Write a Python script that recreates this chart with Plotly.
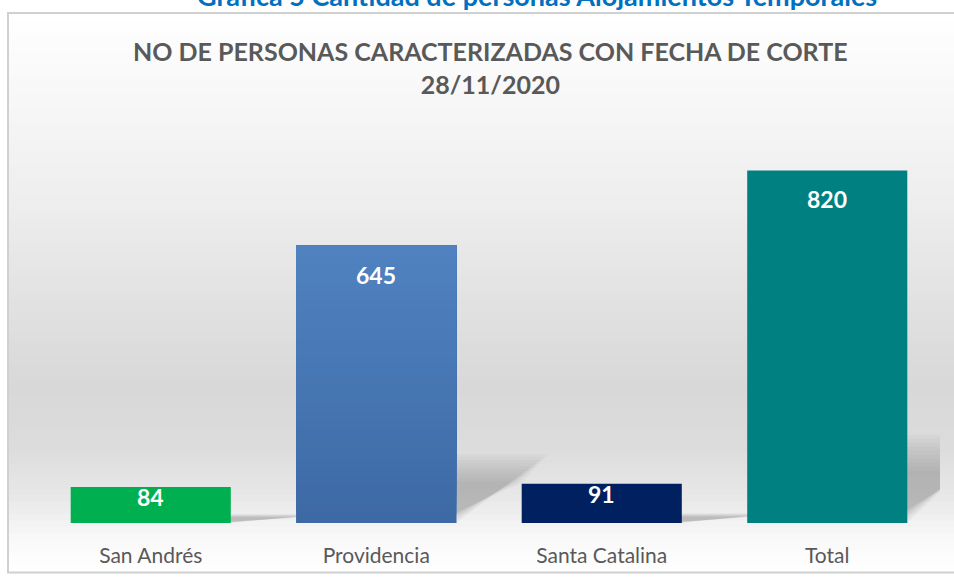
import plotly.graph_objects as go

categories = ["San Andrés", "Providencia", "Santa Catalina", "Total"]
values = [84, 645, 91, 820]
bar_colors = ["#00B050", "#4A7BBA", "#002060", "#008080"]
title_text = "NO DE PERSONAS CARACTERIZADAS CON FECHA DE CORTE<br>28/11/2020"
top_caption = "Gráfica 5 Cantidad de personas Alojamientos Temporales"

W, H = 954, 579
ML = 38
MT = 136
MR = W - 940
MB = H - 526
PW, PH = W - ML - MR, H - MT - MB
Y_MAX = 900
FONT = "Lato"


def px_x(px):  # page pixel -> paper
    return (px - ML) / PW


def px_y(py):
    return (H - MB - py) / PH


xs = list(range(len(categories)))
BAR_W = 0.71

fig = go.Figure()
fig.add_trace(go.Bar(
    x=xs, y=values, width=BAR_W,
    marker=dict(color=bar_colors, line=dict(width=0)),
    hoverinfo="skip",
))

shapes = []
# background gradient (paper coords); each strip runs to the bottom to avoid seams
stops = [(12, 255), (100, 247), (200, 238), (300, 226), (390, 216),
         (450, 220), (500, 232), (540, 248), (575, 255)]
N = 90
y0p, y1p = 12, 580
for k in range(N):
    a = y0p + (y1p - y0p) * k / N
    b = y0p + (y1p - y0p) * (k + 1) / N
    m = (a + b) / 2
    g = 255
    for j in range(len(stops) - 1):
        if stops[j][0] <= m <= stops[j + 1][0]:
            t = (m - stops[j][0]) / (stops[j + 1][0] - stops[j][0])
            g = round(stops[j][1] + t * (stops[j + 1][1] - stops[j][1]))
            break
    col = f"rgb({g},{g},{g})"
    shapes.append(dict(type="rect", xref="paper", yref="paper", layer="below",
                       x0=px_x(8), x1=px_x(980), y0=px_y(y1p), y1=px_y(a),
                       fillcolor=col, line=dict(width=0)))
# border
shapes.append(dict(type="rect", xref="paper", yref="paper", layer="below",
                   x0=px_x(8), x1=px_x(990), y0=px_y(576), y1=px_y(12),
                   fillcolor="rgba(0,0,0,0)", line=dict(color="#d0d0d0", width=2)))

# soft perspective shadows (many faint layers to imitate blur)
NL = 10
for i, v in zip(xs, values):
    h = 0.25 * v
    off = 0.41
    xl = i - BAR_W / 2
    xr = i + BAR_W / 2
    for L in range(NL):
        s = 0.012 * L
        hh = h * (1 - 0.045 * L)
        path = (f"M {xl + s} 0 L {xr - s} 0 L {xr + off - s} {hh} "
                f"L {xl + off + s} {hh} Z")
        shapes.append(dict(type="path", xref="x", yref="y", layer="below",
                           path=path, fillcolor="rgba(110,110,110,0.05)",
                           line=dict(width=0)))

# vertical gradient on Providencia bar
pi = categories.index("Providencia")
pv = values[pi]
NS = 30
c_top = (80, 130, 192)
c_bot = (61, 106, 165)
for k in range(NS):
    t = k / (NS - 1)
    c = tuple(round(c_bot[j] + t * (c_top[j] - c_bot[j])) for j in range(3))
    shapes.append(dict(type="rect", xref="x", yref="y", layer="above",
                       x0=pi - BAR_W / 2, x1=pi + BAR_W / 2,
                       y0=pv * k / NS, y1=pv,
                       fillcolor=f"rgb{c}", line=dict(width=0)))

annotations = [
    dict(text="<b>" + title_text + "</b>", xref="paper", yref="paper",
         x=px_x(490), y=px_y(67), xanchor="center", yanchor="middle",
         showarrow=False, font=dict(family=FONT, size=25, color="#595959")),
    dict(text="<b>" + top_caption + "</b>", xref="paper", yref="paper",
         x=px_x(537), y=px_y(-6), xanchor="center", yanchor="middle",
         showarrow=False, font=dict(family=FONT, size=27, color="#0070C0")),
]
for i, v in zip(xs, values):
    shift = -29 if v > 200 else -10
    annotations.append(dict(text=f"<b>{v}</b>", x=i, y=v, xref="x", yref="y",
                            yshift=shift, yanchor="middle", showarrow=False,
                            font=dict(family=FONT, size=23, color="white")))

fig.update_layout(
    width=W, height=H,
    margin=dict(l=ML, r=MR, t=MT, b=MB),
    paper_bgcolor="white",
    plot_bgcolor="rgba(0,0,0,0)",
    showlegend=False,
    shapes=shapes,
    annotations=annotations,
    xaxis=dict(tickmode="array", tickvals=xs, ticktext=categories,
               range=[-0.5, len(xs) - 0.5], showgrid=False, zeroline=False,
               showline=False, ticks="outside", ticklen=14,
               tickcolor="rgba(0,0,0,0)",
               tickfont=dict(family=FONT, size=21, color="#595959")),
    yaxis=dict(range=[0, Y_MAX], visible=False, showgrid=False, zeroline=False),
)

fig.write_html("out.html",
               config={"displayModeBar": False},
               post_script="document.body.style.margin='0';"
                           "document.body.style.overflow='hidden';")
